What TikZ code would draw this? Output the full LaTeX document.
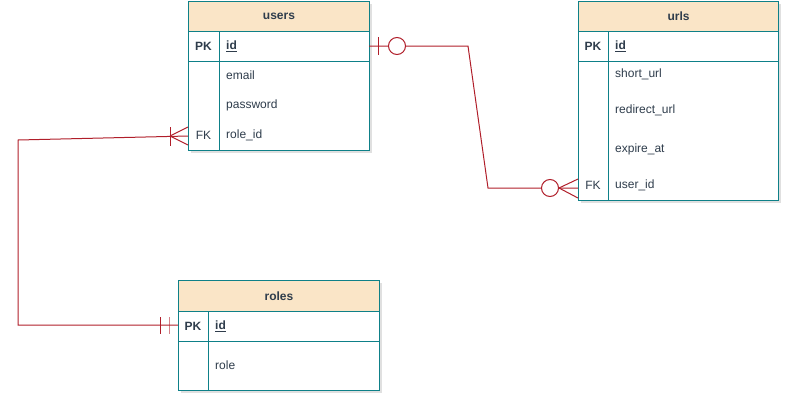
\documentclass[tikz,border=0pt]{standalone}
\usepackage{fontspec}
\setmainfont{Liberation Sans}
\definecolor{tealb}{HTML}{0E8088}
\definecolor{hdr}{HTML}{FAE5C7}
\definecolor{txt}{HTML}{2F3D4C}
\definecolor{rel}{HTML}{B01E2A}
\begin{document}
\begin{tikzpicture}[x=1pt,y=-1pt,
  every node/.style={font=\fontsize{12}{14}\selectfont, text=txt, inner sep=0pt},
  box/.style n args={2}{draw=tealb, line width=1pt, fill=white, anchor=north west, minimum width=#1pt, minimum height=#2pt},
  head/.style={fill=hdr},
  title/.style={font=\fontsize{12}{14}\selectfont\bfseries},
  key/.style={font=\fontsize{12}{14}\selectfont\bfseries, anchor=center},
  fkey/.style={anchor=center},
  field/.style={anchor=west},
  shade/.style={fill=black, opacity=0.12},
  relline/.style={draw=rel, line width=1pt},
  divline/.style={draw=tealb, line width=1pt}]
\useasboundingbox (0,0) rectangle (790,402);

% shadows
\fill[shade] (191,4) rectangle (372,153);
\fill[shade] (581,4) rectangle (781,203);
\fill[shade] (181,283) rectangle (382,393);

% users table
\node[box={181}{30}, head] (usersH) at (188,1) {};
\node[box={181}{30}] (usersPK) at (188,31) {};
\node[box={181}{89}] (usersB) at (188,61) {};
\draw[divline] (219,31) -- (219,150);
\node[title] (usersT) at (usersH.center) {users};
\node[key] (usersPKl) at (203.5,46) {PK};
\node[field, font=\fontsize{12}{14}\selectfont\bfseries] (usersId) at (226,46) {\underline{id}};
\node[field] (usersEmail) at (226,75) {email};
\node[field] (usersPw) at (226,105) {password};
\node[fkey] (usersFK) at (203.5,135) {FK};
\node[field] (usersRole) at (226,135) {role\_id};

% urls table
\node[box={200}{30}, head] (urlsH) at (578,1) {};
\node[box={200}{30}] (urlsPK) at (578,31) {};
\node[box={200}{139}] (urlsB) at (578,61) {};
\draw[divline] (608,31) -- (608,200);
\node[title] (urlsT) at (urlsH.center) {urls};
\node[key] (urlsPKl) at (593,46) {PK};
\node[field, font=\fontsize{12}{14}\selectfont\bfseries] (urlsId) at (615,46) {\underline{id}};
\node[field] (urlsShort) at (615,74) {short\_url};
\node[field] (urlsRedir) at (615,110) {redirect\_url};
\node[field] (urlsExp) at (615,149) {expire\_at};
\node[fkey] (urlsFK) at (593,185) {FK};
\node[field] (urlsUser) at (615,185) {user\_id};

% roles table
\node[box={201}{31}, head] (rolesH) at (178,280) {};
\node[box={201}{30}] (rolesPK) at (178,311) {};
\node[box={201}{49}] (rolesB) at (178,341) {};
\draw[divline] (208,311) -- (208,390);
\node[title] (rolesT) at (rolesH.center) {roles};
\node[key] (rolesPKl) at (193,326) {PK};
\node[field, font=\fontsize{12}{14}\selectfont\bfseries] (rolesId) at (215,326) {\underline{id}};
\node[field] (rolesRole) at (215,365) {role};

% connector users.id -> urls.user_id
\coordinate (c1a) at (369,46);
\coordinate (c1b) at (468,46);
\coordinate (c1c) at (488,188);
\coordinate (c1d) at (578,188);
\draw[relline] (c1a) -- (c1b) -- (c1c) -- (c1d);
\draw[relline] (378,37) -- (378,55);
\node[circle, draw=rel, line width=1pt, fill=white, minimum size=17pt] (o1) at (397,46) {};
\node[circle, draw=rel, line width=1pt, fill=white, minimum size=17pt] (o2) at (550,188) {};
\draw[relline] (o2.east) -- (578,179);
\draw[relline] (o2.east) -- (578,198);

% connector users.role_id -> roles.id
\coordinate (c2a) at (188,136);
\coordinate (c2b) at (18,140);
\coordinate (c2c) at (18,325);
\coordinate (c2d) at (178,325);
\draw[relline] (c2a) -- (c2b) -- (c2c) -- (c2d);
\draw[relline] (170,136) -- (188,127);
\draw[relline] (170,136) -- (188,145);
\draw[relline] (170,127) -- (170,146);
\draw[relline] (160,317) -- (160,334);
\draw[relline, draw opacity=0.55] (169,317) -- (169,334);
\end{tikzpicture}
\end{document}
